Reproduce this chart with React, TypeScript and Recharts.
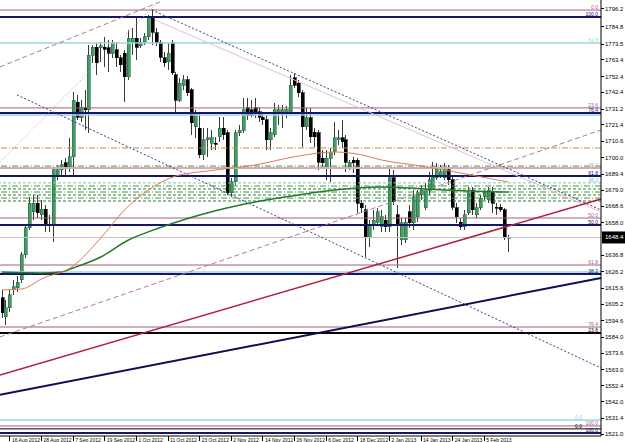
import React from "react";
import {
  ComposedChart,
  Bar,
  Line,
  XAxis,
  YAxis,
  ReferenceLine,
} from "recharts";

// daily candles, 14 Aug 2012 .. 13 Feb 2013
const open = [
  1609.3, 1597.0, 1602.8, 1614.5, 1615.8, 1620.9, 1637.1, 1654.6, 1664.9, 1670.7,
  1663.0, 1666.8, 1656.5, 1656.5, 1688.8, 1692.1, 1696.6, 1694.0, 1700.5, 1736.0,
  1725.7, 1732.2, 1730.9, 1766.4, 1771.6, 1771.0, 1771.6, 1771.0, 1767.7, 1769.7,
  1764.5, 1767.7, 1752.2, 1774.2, 1777.4, 1772.3, 1774.2, 1778.1, 1790.4, 1780.7,
  1774.8, 1764.5, 1761.9, 1774.2, 1753.5, 1737.3, 1747.0, 1750.3, 1743.8, 1719.9,
  1719.2, 1701.8, 1711.5, 1709.5, 1709.5, 1713.4, 1719.2, 1716.0, 1677.2, 1684.3,
  1716.0, 1717.9, 1732.2, 1730.9, 1732.2, 1729.6, 1726.3, 1724.4, 1711.5, 1714.7,
  1728.9, 1728.9, 1728.9, 1728.9, 1751.6, 1748.3, 1741.9, 1719.9, 1725.7, 1716.6,
  1716.0, 1699.8, 1693.4, 1699.8, 1703.7, 1711.5, 1712.8, 1711.5, 1694.0, 1698.5,
  1698.5, 1670.7, 1666.2, 1648.1, 1656.5, 1658.4, 1655.2, 1659.7, 1655.2, 1686.9,
  1663.0, 1646.8, 1646.8, 1664.9, 1657.8, 1661.7, 1675.9, 1667.5, 1679.1, 1680.4,
  1686.9, 1688.8, 1686.9, 1692.1, 1685.6, 1667.5, 1658.4, 1655.2, 1664.3, 1679.1,
  1663.0, 1667.5, 1674.6, 1672.7, 1677.8, 1668.1, 1668.1, 1666.2, 1648.1,
];
const high = [
  1614.5, 1608.0, 1614.5, 1620.9, 1623.5, 1639.0, 1656.5, 1674.6, 1675.9, 1675.9,
  1672.7, 1669.4, 1663.0, 1693.4, 1695.3, 1698.5, 1699.8, 1712.8, 1742.5, 1740.6,
  1737.3, 1743.8, 1772.9, 1772.9, 1774.2, 1774.8, 1778.1, 1776.1, 1776.1, 1774.8,
  1766.4, 1769.7, 1782.6, 1783.9, 1791.0, 1777.4, 1780.7, 1792.3, 1796.2, 1783.9,
  1776.1, 1768.4, 1774.2, 1776.1, 1755.4, 1751.6, 1753.5, 1752.9, 1745.1, 1730.9,
  1728.9, 1719.2, 1719.2, 1717.9, 1713.4, 1726.3, 1726.3, 1717.9, 1686.9, 1717.9,
  1721.2, 1738.6, 1738.6, 1737.3, 1738.6, 1732.8, 1729.6, 1727.6, 1719.2, 1735.4,
  1734.1, 1734.1, 1733.4, 1753.5, 1754.8, 1750.3, 1743.8, 1732.2, 1732.2, 1719.2,
  1717.9, 1705.0, 1705.0, 1706.3, 1723.1, 1717.9, 1724.4, 1714.7, 1698.5, 1700.5,
  1699.8, 1672.7, 1669.4, 1659.7, 1666.2, 1667.5, 1666.2, 1663.0, 1694.0, 1692.1,
  1669.4, 1661.0, 1661.0, 1669.4, 1679.1, 1679.1, 1682.4, 1683.7, 1690.8, 1697.2,
  1696.6, 1695.3, 1696.6, 1695.3, 1688.8, 1670.7, 1661.0, 1666.2, 1681.1, 1681.1,
  1670.7, 1675.9, 1679.1, 1681.1, 1681.1, 1670.7, 1670.1, 1667.5, 1650.0,
];
const low = [
  1596.3, 1591.8, 1600.2, 1611.2, 1613.2, 1619.0, 1635.2, 1653.3, 1659.7, 1661.0,
  1659.7, 1652.0, 1652.0, 1645.5, 1685.6, 1688.8, 1687.5, 1690.8, 1688.8, 1724.4,
  1723.1, 1717.9, 1716.0, 1761.3, 1753.5, 1761.9, 1758.7, 1755.4, 1764.5, 1758.7,
  1755.4, 1736.0, 1750.3, 1766.4, 1763.2, 1771.0, 1772.9, 1776.1, 1772.9, 1772.3,
  1761.9, 1758.7, 1756.7, 1753.5, 1728.9, 1736.0, 1743.8, 1739.9, 1714.7, 1712.8,
  1699.8, 1698.5, 1700.5, 1705.0, 1705.0, 1710.2, 1711.5, 1675.9, 1674.6, 1682.4,
  1714.0, 1716.0, 1724.4, 1726.3, 1725.7, 1723.1, 1721.2, 1705.0, 1705.0, 1713.4,
  1721.2, 1719.2, 1725.7, 1727.6, 1745.1, 1739.3, 1706.9, 1717.9, 1709.5, 1706.9,
  1692.1, 1693.4, 1685.6, 1684.3, 1701.8, 1708.2, 1706.3, 1690.8, 1692.1, 1690.1,
  1664.3, 1664.3, 1635.8, 1642.3, 1653.3, 1656.5, 1652.0, 1652.0, 1652.0, 1669.4,
  1628.7, 1643.6, 1644.9, 1654.6, 1653.3, 1658.4, 1672.7, 1666.2, 1675.9, 1679.1,
  1685.6, 1686.9, 1685.6, 1682.4, 1666.2, 1657.8, 1653.3, 1653.3, 1663.0, 1663.0,
  1661.0, 1666.2, 1672.7, 1670.7, 1664.3, 1663.0, 1664.9, 1646.8, 1639.0,
];
const close = [
  1599.6, 1602.8, 1611.2, 1616.4, 1619.6, 1637.1, 1654.6, 1670.7, 1670.7, 1664.3,
  1666.8, 1656.5, 1657.1, 1692.1, 1692.1, 1695.3, 1693.4, 1700.5, 1737.3, 1726.3,
  1732.2, 1730.9, 1766.4, 1771.6, 1761.3, 1772.3, 1770.3, 1767.7, 1774.2, 1764.5,
  1760.0, 1752.2, 1777.4, 1777.4, 1771.6, 1774.8, 1778.1, 1790.4, 1781.3, 1774.2,
  1765.1, 1761.3, 1767.7, 1754.8, 1737.3, 1748.3, 1750.3, 1741.9, 1722.5, 1728.9,
  1701.8, 1711.5, 1712.8, 1712.8, 1708.9, 1719.2, 1714.7, 1677.2, 1684.3, 1716.0,
  1717.9, 1730.9, 1727.6, 1727.6, 1728.9, 1726.3, 1724.4, 1711.5, 1716.0, 1730.9,
  1730.9, 1730.9, 1730.9, 1747.0, 1747.0, 1741.9, 1719.9, 1725.7, 1713.4, 1713.4,
  1697.2, 1696.6, 1699.8, 1703.1, 1712.8, 1712.8, 1710.2, 1697.2, 1697.2, 1696.6,
  1670.7, 1667.5, 1648.1, 1656.5, 1659.7, 1664.9, 1661.7, 1655.2, 1686.9, 1671.4,
  1656.5, 1657.8, 1658.4, 1657.8, 1674.6, 1677.2, 1679.1, 1679.1, 1685.6, 1687.5,
  1693.4, 1690.8, 1692.1, 1685.6, 1668.1, 1661.7, 1655.2, 1663.0, 1677.2, 1666.2,
  1667.5, 1673.9, 1677.8, 1679.1, 1670.7, 1667.5, 1666.2, 1648.7, 1648.4,
];

// moving averages, read at a few bars
const fastMaBars = [0, 5, 10, 18, 25, 31, 37, 44, 52, 64, 75, 84, 91, 96, 106, 116, 128];
const fastMaValues = [
  1614.5, 1615.1, 1621.6, 1630.0, 1648.1, 1666.2, 1679.1, 1688.2, 1691.4,
  1695.3, 1701.1, 1703.7, 1701.8, 1698.5, 1694.6, 1690.1, 1684.3,
];
const slowMaBars = [0, 10, 15, 18, 25, 32, 37, 50, 64, 75, 84, 96, 107, 118, 128];
const slowMaValues = [
  1626.1, 1625.5, 1626.1, 1628.7, 1635.8, 1646.8, 1652.0, 1663.0, 1671.4,
  1675.9, 1679.1, 1681.1, 1679.8, 1678.5, 1677.8,
];

// x axis: every 8th bar from bar 2
const dateLabels = [
  "16 Aug 2012", "28 Aug 2012", "7 Sep 2012", "19 Sep 2012", "1 Oct 2012",
  "11 Oct 2012", "23 Oct 2012", "2 Nov 2012", "14 Nov 2012", "26 Nov 2012",
  "6 Dec 2012", "18 Dec 2012", "2 Jan 2013", "14 Jan 2013", "24 Jan 2013",
  "5 Feb 2013",
];
const dateTicks = dateLabels.map((_, k) => 2 + k * 8);

const priceTicks = [
  1796.2, 1784.8, 1773.5, 1763.4, 1752.4, 1742.4, 1731.2, 1721.4, 1710.6,
  1700.0, 1689.4, 1679.0, 1668.6, 1658.0, 1636.8, 1626.2, 1615.6, 1605.2,
  1594.6, 1584.0, 1573.6, 1563.0, 1552.4, 1542.0, 1531.4, 1521.0,
];

// horizontal levels (fibonacci + support/resistance)
const levelPrices = [
  1795.5, 1791.0, 1774.2, 1732.2, 1728.9, 1727.6, 1706.3, 1694.6, 1693.4,
  1688.2, 1683.7, 1681.7, 1679.8, 1677.8, 1675.9, 1673.9, 1672.0, 1661.0,
  1656.5, 1630.6, 1626.1, 1624.8, 1590.5, 1586.6, 1530.4, 1526.5, 1524.6, 1522.0,
];
const levelKinds = [
  "pink", "navy", "cyan", "pink", "navy", "cyan", "orangeDash", "greenDash", "pinkWide",
  "navy", "cyanDash", "greenDash", "greenDot", "greenDash", "greenDot", "greenDash", "greenDot", "pink",
  "navy", "pink", "cyan", "navy", "pink", "black", "cyan", "pink", "blackThin", "navy",
];
const levelLabels = [
  "0.0", "100.0", "61.8", "23.6", "76.4", "", "", "", "38.2",
  "61.8", "38.2", "", "", "", "", "", "", "50.0",
  "50.0", "61.8", "", "38.2", "76.4", "23.6", "0.0", "100.0", "0.0", "100.0",
];

// trend lines: [bar, price] -> [bar, price]
const trendFromBar = [-0.5, -0.5, -0.5, 38.7, 37.9, 3.8, -0.5, -0.5];
const trendFromPrice = [1758.7, 1584.1, 1697.2, 1789.1, 1795.5, 1740.6, 1559.5, 1546.6];
const trendToBar = [40.7, 151.5, 38.7, 151.5, 151.5, 151.5, 151.5, 151.5];
const trendToPrice = [1801.5, 1717.9, 1798.8, 1664.9, 1666.2, 1564.0, 1673.3, 1622.2];
const trendKinds = ["pinkDash", "pinkDash", "greyDot", "pinkLight", "navyDot", "navyDot", "red", "navyWide"];

const STYLES: Record<string, { stroke: string; width: number; dash?: string }> = {
  pink: { stroke: "#a45f7c", width: 1 },
  pinkWide: { stroke: "#d9a9bb", width: 2 },
  navy: { stroke: "#15156a", width: 2 },
  cyan: { stroke: "#9fd6de", width: 1.5 },
  cyanDash: { stroke: "#7cc4cc", width: 1, dash: "3 2" },
  orangeDash: { stroke: "#c8874c", width: 1, dash: "6 2 1 2" },
  greenDash: { stroke: "#3f9c3f", width: 1, dash: "6 2 1 2" },
  greenDot: { stroke: "#2e7c3e", width: 1, dash: "3 2" },
  black: { stroke: "#000000", width: 2 },
  blackThin: { stroke: "#000000", width: 1 },
  pinkDash: { stroke: "#b27990", width: 1, dash: "5 3" },
  pinkLight: { stroke: "#e6bfcc", width: 1 },
  greyDot: { stroke: "#b9a4b0", width: 1, dash: "1 2" },
  navyDot: { stroke: "#3a3a86", width: 1, dash: "2 2" },
  red: { stroke: "#b3203c", width: 1.5 },
  navyWide: { stroke: "#0f0f55", width: 2 },
};

const FONT = "'Liberation Sans', Arial, sans-serif";

const rows = open.map((o, i) => ({ i, o, h: high[i], l: low[i], c: close[i] }));
const fastRows = fastMaBars.map((b, k) => ({ i: b, v: fastMaValues[k] }));
const slowRows = slowMaBars.map((b, k) => ({ i: b, v: slowMaValues[k] }));

const lastClose = close[close.length - 1];

// candle drawn inside the [low, high] range bar
const Candle = (props: any) => {
  const { x, y, width, height, payload } = props;
  if (!payload || !height) return null;
  const { o, h, l, c } = payload;
  const k = height / (h - l);
  const cx = Math.round(x + width / 2) + 0.5;
  const yo = y + (h - o) * k;
  const yc = y + (h - c) * k;
  const top = Math.min(yo, yc);
  const bh = Math.max(1, Math.abs(yo - yc));
  const up = c >= o;
  return (
    <g shapeRendering="crispEdges">
      <line x1={cx} x2={cx} y1={y} y2={y + height} stroke="#3a3a3a" strokeWidth={1} />
      <rect
        x={cx - 1.5}
        y={top}
        width={3}
        height={bh}
        fill={up ? "#3f9c62" : "#000000"}
        stroke={up ? "#2a6a42" : "#000000"}
        strokeWidth={0.6}
      />
    </g>
  );
};

const DateTick = ({ x, y, payload }: any) => {
  const idx = dateTicks.indexOf(payload.value);
  return (
    <g>
      <line x1={x} x2={x} y1={y} y2={y + 5} stroke="#000" shapeRendering="crispEdges" />
      <text x={x + 2} y={y + 6} fontSize={5} fontFamily={FONT} fill="#000">
        {dateLabels[idx]}
      </text>
    </g>
  );
};

const PriceTick = ({ x, y, payload }: any) => (
  <g>
    <line x1={x} x2={x + 3} y1={y} y2={y} stroke="#000" shapeRendering="crispEdges" />
    <text x={x + 4} y={y + 2} fontSize={6} fontFamily={FONT} fill="#000">
      {payload.value.toFixed(1)}
    </text>
  </g>
);

const LevelLabel = ({ viewBox, text, color, dx = 0 }: any) => {
  if (!viewBox || !text) return null;
  return (
    <text
      x={viewBox.x + viewBox.width - 3 - dx}
      y={viewBox.y - 1}
      textAnchor="end"
      fontSize={5}
      fontFamily={FONT}
      fill={color}
    >
      {text}
    </text>
  );
};

const PriceTag = ({ viewBox }: any) => {
  if (!viewBox) return null;
  const px = viewBox.x + viewBox.width + 1;
  return (
    <g>
      <rect x={px} y={viewBox.y - 6} width={24} height={12} fill="#000" />
      <text x={px + 3} y={viewBox.y + 2} fontSize={6} fontFamily={FONT} fill="#fff">
        {lastClose.toFixed(1)}
      </text>
    </g>
  );
};

export default function App() {
  return (
    <div
      style={{
        position: "absolute",
        left: 0,
        top: 0,
        width: 625,
        height: 442,
        background: "#fff",
        overflow: "hidden",
      }}
    >
      <ComposedChart
        width={625}
        height={442}
        data={rows}
        margin={{ top: 0, right: 0, bottom: 0, left: 0 }}
      >
        <XAxis
          type="number"
          dataKey="i"
          domain={[-0.5, 151.5]}
          ticks={dateTicks}
          interval={0}
          height={6}
          tickSize={0}
          tickMargin={0}
          tick={<DateTick />}
          axisLine={{ stroke: "#000" }}
          allowDataOverflow
        />
        <YAxis
          orientation="right"
          width={24}
          domain={[1520, 1802]}
          ticks={priceTicks}
          interval={0}
          tickSize={0}
          tickMargin={0}
          tick={<PriceTick />}
          axisLine={{ stroke: "#000" }}
          allowDataOverflow
        />

        {levelPrices.map((p, k) => {
          const s = STYLES[levelKinds[k]];
          // the four bottom labels are stacked tightly; step them sideways
          const dx = k >= 24 ? (k % 2 === 0 ? 16 : 0) : 0;
          return (
            <ReferenceLine
              key={"lv" + k}
              y={p}
              stroke={s.stroke}
              strokeWidth={s.width}
              strokeDasharray={s.dash}
              label={<LevelLabel text={levelLabels[k]} color={s.stroke} dx={dx} />}
            />
          );
        })}

        <ReferenceLine
          y={lastClose}
          stroke="#c4c4c4"
          strokeWidth={1}
          label={<PriceTag />}
        />

        {trendFromBar.map((b, k) => {
          const s = STYLES[trendKinds[k]];
          return (
            <ReferenceLine
              key={"tr" + k}
              segment={[
                { x: b, y: trendFromPrice[k] },
                { x: trendToBar[k], y: trendToPrice[k] },
              ]}
              stroke={s.stroke}
              strokeWidth={s.width}
              strokeDasharray={s.dash}
              ifOverflow="visible"
            />
          );
        })}

        <Line
          data={slowRows}
          dataKey="v"
          type="monotone"
          stroke="#237a2a"
          strokeWidth={1.5}
          dot={false}
          activeDot={false}
          isAnimationActive={false}
        />
        <Line
          data={fastRows}
          dataKey="v"
          type="monotone"
          stroke="#e07a52"
          strokeWidth={1}
          dot={false}
          activeDot={false}
          isAnimationActive={false}
        />
        <Bar
          dataKey={(d: any) => [d.l, d.h]}
          barSize={3}
          shape={<Candle />}
          isAnimationActive={false}
        />
      </ComposedChart>
    </div>
  );
}
